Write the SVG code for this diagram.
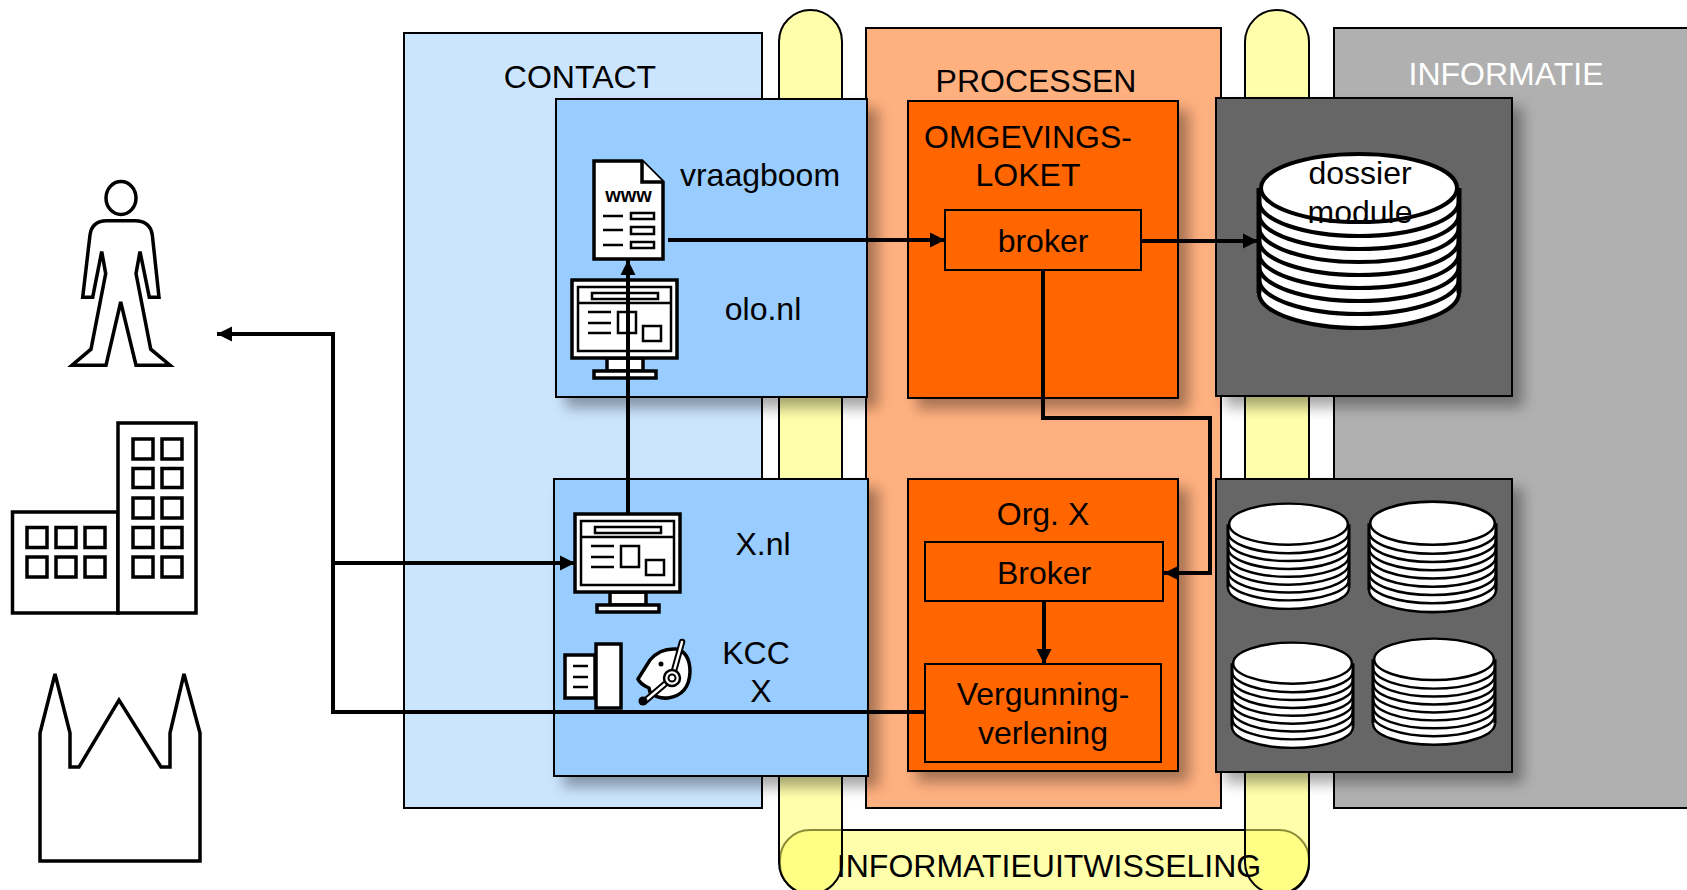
<svg xmlns="http://www.w3.org/2000/svg" xmlns:xlink="http://www.w3.org/1999/xlink" width="1687" height="890" viewBox="0 0 1687 890">
<style>
text{font-family:"Liberation Sans",Arial,sans-serif;font-size:32px;fill:#000;text-anchor:middle}
.p{stroke:#000;stroke-width:2}
.sh{filter:url(#ds)}
.ic{fill:#fff;stroke:#000;stroke-width:3.5}
.ln{fill:none;stroke:#000;stroke-width:2.5}
.c{fill:none;stroke:#000;stroke-width:4}
.ye{fill:#ffff66;fill-opacity:.55;stroke:#000;stroke-width:2}
</style>
<defs>
<filter id="ds" x="-10%" y="-10%" width="130%" height="130%"><feDropShadow dx="10" dy="10" stdDeviation="7" flood-color="#000" flood-opacity=".35"/></filter>
<marker id="ah" markerUnits="userSpaceOnUse" markerWidth="16" markerHeight="16" refX="15" refY="8" orient="auto"><path d="M0,0.5L15,8L0,15.5z" fill="#000"/></marker>
<g id="cyl">
<path d="M0,35V140A100,35 0 0 0 200,140V35z" fill="#fff"/>
<path d="M0,35V140M200,35V140" stroke="#000" stroke-width="5" fill="none"/>
<path d="M0,48A100,35 0 0 0 200,48M0,61A100,35 0 0 0 200,61M0,74A100,35 0 0 0 200,74M0,87A100,35 0 0 0 200,87M0,100A100,35 0 0 0 200,100M0,113A100,35 0 0 0 200,113M0,126A100,35 0 0 0 200,126M0,140A100,35 0 0 0 200,140" fill="none" stroke="#000" stroke-width="4"/>
<ellipse cx="100" cy="35" rx="98" ry="34" fill="#fff" stroke="#000" stroke-width="4"/>
</g>
<g id="mon">
<rect class="ic" x="607" y="358" width="36" height="13"/>
<rect class="ic" x="594" y="371" width="62" height="7" stroke-width="2.5"/>
<rect class="ic" x="572" y="280" width="105" height="78"/>
<rect class="ln" x="578" y="287" width="93" height="64"/>
<path class="ln" d="M578,303H671M588,312H611M588,323H611M588,333H611"/>
<rect class="ln" x="592" y="293" width="66" height="6"/>
<rect class="ln" x="618" y="312" width="18" height="21"/>
<rect class="ln" x="643" y="326" width="18" height="15"/>
</g>
</defs>
<rect width="1687" height="890" fill="#fff"/>

<g id="pills">
<rect id="pill-h" class="ye" x="780" y="830" width="529" height="64" rx="30"/>
<rect id="pill-v1" class="ye" x="779" y="10" width="63" height="884" rx="31.5"/>
<rect id="pill-v2" class="ye" x="1245" y="10" width="64" height="884" rx="32"/>
</g>

<g id="contact"><rect class="p" x="404" y="33" width="358" height="775" fill="#cce5ff"/><text x="580" y="88">CONTACT</text></g>
<g id="processen"><rect class="p" x="866" y="28" width="355" height="780" fill="#ffb07f"/><text x="1036" y="92">PROCESSEN</text></g>
<g id="informatie"><rect class="p" x="1334" y="28" width="360" height="780" fill="#b0b0b0"/><text x="1506" y="85" style="fill:#fff">INFORMATIE</text></g>

<g id="olo"><rect class="p sh" x="556" y="99" width="311" height="298" fill="#99ccff"/><text x="760" y="186">vraagboom</text><text x="763" y="320">olo.nl</text></g>
<g id="xnl"><rect class="p sh" x="554" y="479" width="314" height="297" fill="#99ccff"/><text x="763" y="555">X.nl</text><text x="756" y="664">KCC</text><text x="761" y="702">X</text></g>
<g id="omgevingsloket"><rect class="p sh" x="908" y="101" width="270" height="297" fill="#ff6600"/><text x="1028" y="148">OMGEVINGS-</text><text x="1028" y="186">LOKET</text></g>
<g id="orgx"><rect class="p sh" x="908" y="479" width="270" height="292" fill="#ff6600"/><text x="1043" y="525">Org. X</text></g>
<g id="broker1"><rect class="p" x="945" y="210" width="196" height="60" fill="#ff6600"/><text x="1043" y="252">broker</text></g>
<g id="broker2"><rect class="p" x="925" y="542" width="238" height="59" fill="#ff6600"/><text x="1044" y="584">Broker</text></g>
<g id="vergunning"><rect class="p" x="925" y="664" width="236" height="98" fill="#ff6600"/><text x="1043" y="705">Vergunning-</text><text x="1043" y="744">verlening</text></g>
<g id="info1"><rect class="p sh" x="1216" y="98" width="296" height="298" fill="#666"/></g>
<g id="info2"><rect class="p sh" x="1216" y="479" width="296" height="293" fill="#666"/></g>

<g id="dossier"><use href="#cyl" transform="translate(1259,153)"/><text x="1360" y="184">dossier</text><text x="1360" y="223">module</text></g>
<g id="db1"><use href="#cyl" transform="translate(1228,503) scale(.605)"/></g>
<g id="db2"><use href="#cyl" transform="translate(1369,501) scale(.635)"/></g>
<g id="db3"><use href="#cyl" transform="translate(1232,642) scale(.605)"/></g>
<g id="db4"><use href="#cyl" transform="translate(1373,638) scale(.61)"/></g>

<g id="person"><ellipse class="ic" cx="121" cy="198" rx="15" ry="16.500"/><path class="ic" d="M106.7,220.8Q92,220.8 90,234.9L82.7,297.2H92.7L101.7,251.5L105.7,273.6L91,349.2L72,365.2H106L120.7,302L136,365.2H170L150.7,349.2L136,273.6L140,251.5L149.3,297.2H159L152.3,234.9Q150,220.8 135,220.8z"/></g>
<g id="building" class="ic">
<rect x="12.500" y="512" width="105.500" height="101"/><rect x="118" y="423" width="78" height="190"/>
<path d="M133,439h20v20h-20zM162,439h20v20h-20zM133,468.500h20v19h-20zM162,468.500h20v19h-20zM133,498h20v20h-20zM162,498h20v20h-20zM133,527.500h20v20h-20zM162,527.500h20v20h-20zM133,557h20v20h-20zM162,557h20v20h-20zM27,527.500h20v20h-20zM56,527.500h20v20h-20zM85,527.500h20v20h-20zM27,557h20v20h-20zM56,557h20v20h-20zM85,557h20v20h-20z"/>
</g>
<g id="church"><path class="ic" d="M40,861V733L55,674L70,733V767H79L119,700L161,767H170V733L184,674L200,733V861z"/></g>

<g id="doc">
<path class="ic" d="M594,161H642L663,182V259H594z"/><path class="ic" d="M642,161V182H663"/>
<text x="628.500" y="202" style="font-size:20px;font-weight:bold">www</text>
<path class="ln" d="M603,216H623M603,230H623M603,245H623"/>
<path class="ln" d="M631,213h23v6h-23zM631,227h23v7h-23zM631,242h23v6h-23z"/>
</g>
<g id="monitor1"><use href="#mon"/></g>
<g id="monitor2"><use href="#mon" transform="translate(3,234)"/></g>
<g id="kcc">
<rect class="ic" x="565" y="655" width="30" height="43" stroke-width="2.500"/>
<rect class="ic" x="596" y="644" width="25" height="64" stroke-width="2.500"/>
<path class="ln" d="M573,666H588M573,677H588M573,687H588"/>
<path class="ic" stroke-width="2.500" d="M638,679L650,660Q660,648 676,649Q690,652 690,672Q689,695 668,698Q657,699 650,692L649,688Q640,684 638,679z"/>
<circle cx="661" cy="664" r="2.500"/>
<path d="M672,678L645,701M672,678L682,642" stroke="#000" stroke-width="6.500" stroke-linecap="round" fill="none"/>
<path d="M672,678L645,701M672,678L682,642" stroke="#fff" stroke-width="2.500" stroke-linecap="round" fill="none"/>
<circle cx="672" cy="678" r="8" fill="#fff" stroke="#000" stroke-width="2.500"/><circle cx="672" cy="678" r="3.500" fill="#fff" stroke="#000" stroke-width="2"/>
<circle cx="643" cy="701" r="4.500"/>
</g>

<g id="connectors">
<path class="c" d="M668,240H945" marker-end="url(#ah)"/>
<path class="c" d="M1142,241H1258" marker-end="url(#ah)"/>
<path class="c" d="M1043,270V418H1210V573H1164" marker-end="url(#ah)"/>
<path class="c" d="M1044,601V664" marker-end="url(#ah)"/>
<path class="c" d="M628,514V260" marker-end="url(#ah)"/>
<path class="c" d="M925,712H333V334H217" marker-end="url(#ah)"/>
<path class="c" d="M333,563H575" marker-end="url(#ah)"/>
</g>
<g id="pill-label"><text x="1049" y="877">INFORMATIEUITWISSELING</text></g>
</svg>
